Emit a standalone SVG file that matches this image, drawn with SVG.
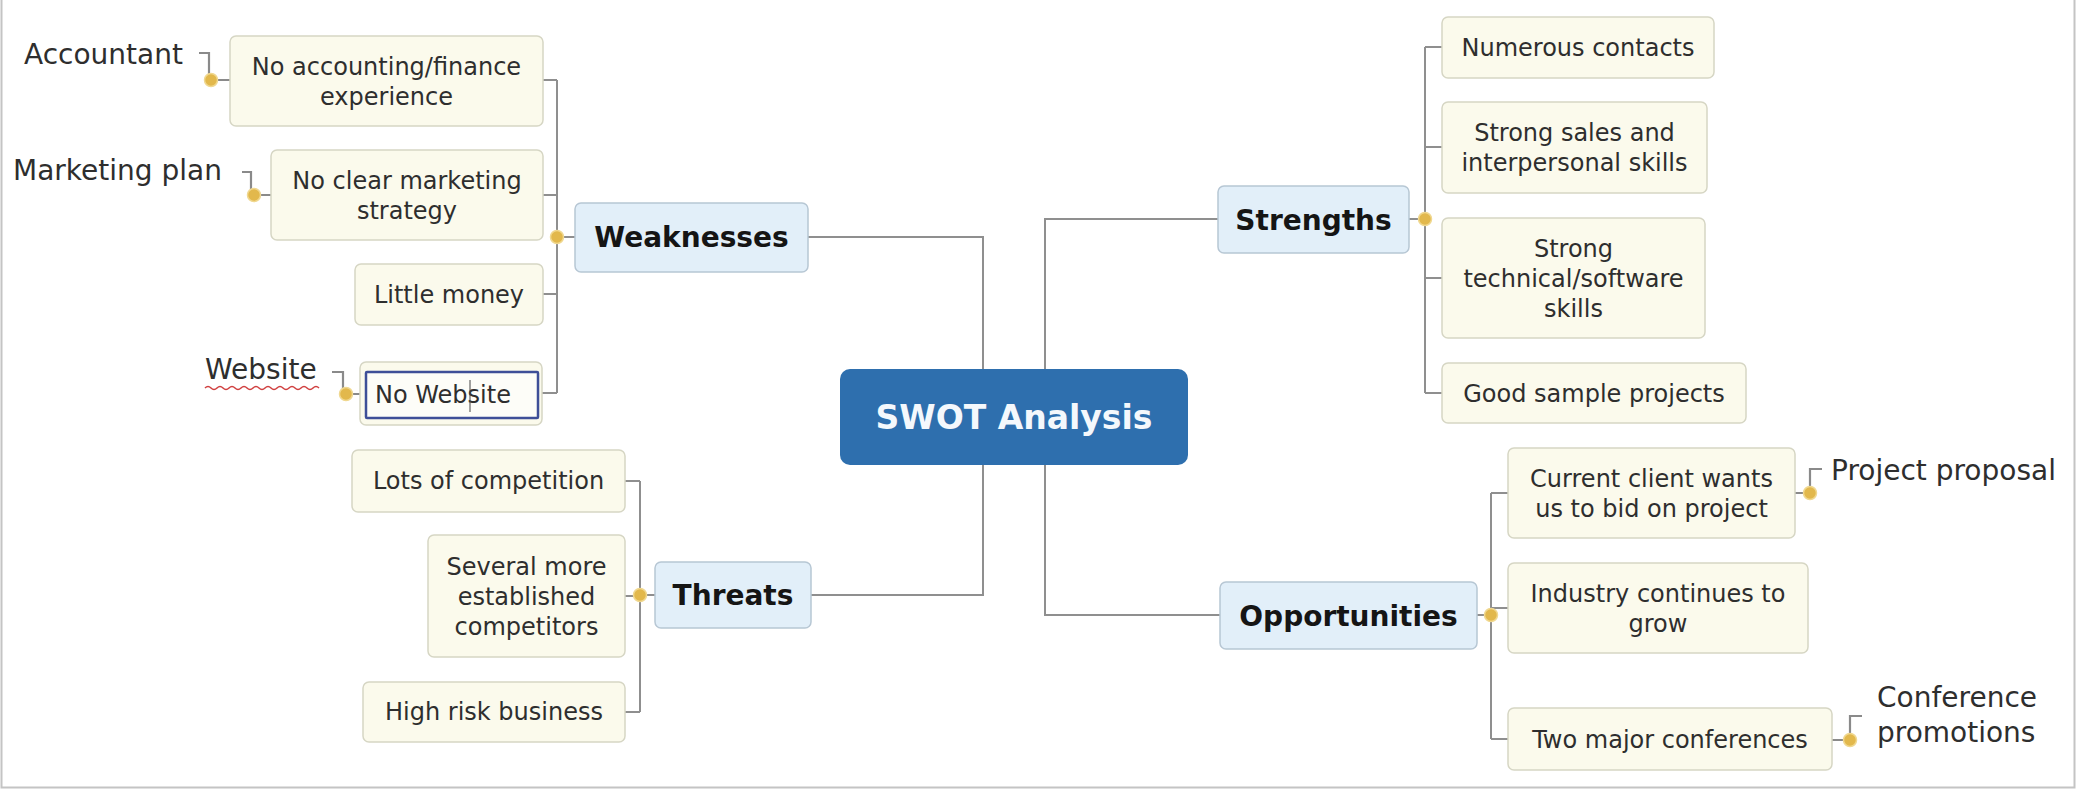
<svg xmlns="http://www.w3.org/2000/svg" width="2076" height="790" viewBox="0 0 2076 790">
<style>
.node rect{fill:#fbfaec;stroke:#d6d6c4;stroke-width:1.5}
.branch rect{fill:#e2eff9;stroke:#b7c7d4;stroke-width:1.5}
.t{font-family:"DejaVu Sans","Liberation Sans",sans-serif;font-size:24px;fill:#2e2e2e;text-anchor:middle}
.b{font-family:"DejaVu Sans","Liberation Sans",sans-serif;font-size:28px;font-weight:bold;fill:#151515;text-anchor:middle}
.lbl{font-family:"DejaVu Sans","Liberation Sans",sans-serif;font-size:28px;fill:#2e2e2e}
.c{fill:none;stroke:#8f8f8f;stroke-width:2}
.h{fill:none;stroke:#8a8a8a;stroke-width:2.2}
.dot{fill:#e2b84c;stroke:#f0d890;stroke-width:1.5}
</style>
<rect x="0" y="0" width="2076" height="790" fill="#ffffff"/>
<path d="M1.5,0 V787.5 H2074.5 V0" fill="none" stroke="#c4c4c4" stroke-width="2"/>

<g id="connectors">
  <path class="c" d="M808,237 H983 V595 H811"/>
  <path class="c" d="M1218,219 H1045 V615 H1220"/>
  <path class="c" d="M543,80 H557 M543,195 H557 M543,294 H557 M542,393 H557 M557,80 V393 M557,237 H575"/>
  <path class="c" d="M625,481 H640 M625,596 H640 M625,712 H640 M640,481 V712 M640,595 H655"/>
  <path class="c" d="M1409,219 H1425 M1425,47 V393 M1425,47 H1442 M1425,147 H1442 M1425,278 H1442 M1425,393 H1442"/>
  <path class="c" d="M1477,615 H1491 M1491,493 V739 M1491,493 H1508 M1491,608 H1508 M1491,739 H1508"/>
  <path class="h" d="M199,53 H209 V80 H230"/>
  <path class="h" d="M242,172 H251 V195 H271"/>
  <path class="h" d="M332,372 H343 V394 H360"/>
  <path class="h" d="M1795,493 H1810 V469 H1822"/>
  <path class="h" d="M1832,740 H1850 V716 H1862"/>
  <circle class="dot" cx="557" cy="237" r="6.5"/>
  <circle class="dot" cx="640" cy="595" r="6.5"/>
  <circle class="dot" cx="1425" cy="219" r="6.5"/>
  <circle class="dot" cx="1491" cy="615" r="6.5"/>
  <circle class="dot" cx="211" cy="80" r="6.5"/>
  <circle class="dot" cx="254" cy="195" r="6.5"/>
  <circle class="dot" cx="346" cy="394" r="6.5"/>
  <circle class="dot" cx="1810" cy="493" r="6.5"/>
  <circle class="dot" cx="1850" cy="740" r="6.5"/>
</g>

<g id="center">
  <rect x="840" y="369" width="348" height="96" rx="10" fill="#2e6fae"/>
  <text x="1014" y="429" font-family="'DejaVu Sans','Liberation Sans',sans-serif" font-size="33" font-weight="bold" fill="#f4f8fc" text-anchor="middle">SWOT Analysis</text>
</g>

<g id="weaknesses" class="branch">
  <rect x="575" y="203" width="233" height="69" rx="6"/>
  <text class="b" x="691.5" y="247">Weaknesses</text>
</g>
<g id="w1" class="node">
  <rect x="230" y="36" width="313" height="90" rx="6"/>
  <text class="t" x="386.5" y="74.5">No accounting/finance</text>
  <text class="t" x="386.5" y="104.5">experience</text>
</g>
<g id="w1-label"><text class="lbl" x="24" y="64">Accountant</text></g>
<g id="w2" class="node">
  <rect x="271" y="150" width="272" height="90" rx="6"/>
  <text class="t" x="407" y="188.5">No clear marketing</text>
  <text class="t" x="407" y="218.5">strategy</text>
</g>
<g id="w2-label"><text class="lbl" x="13" y="180">Marketing plan</text></g>
<g id="w3" class="node">
  <rect x="355" y="264" width="188" height="61" rx="6"/>
  <text class="t" x="449" y="303">Little money</text>
</g>
<g id="w4" class="node">
  <rect x="360" y="362" width="182" height="63" rx="6"/>
  <rect x="366" y="372" width="172" height="46" rx="1" style="fill:#fdfdf8;stroke:#3e4f98;stroke-width:2.5"/>
  <text class="t" x="375" y="403" style="text-anchor:start">No Website</text>
  <line x1="470" y1="380" x2="470" y2="412" stroke="#444" stroke-width="1"/>
</g>
<g id="w4-label">
  <text class="lbl" x="205" y="379">Website</text>
  <path d="M205,388 q3,-3 6,0 t6,0 t6,0 t6,0 t6,0 t6,0 t6,0 t6,0 t6,0 t6,0 t6,0 t6,0 t6,0 t6,0 t6,0 t6,0 t6,0 t6,0 t6,0" fill="none" stroke="#d04040" stroke-width="1.5"/>
</g>

<g id="threats" class="branch">
  <rect x="655" y="562" width="156" height="66" rx="6"/>
  <text class="b" x="733" y="605">Threats</text>
</g>
<g id="t1" class="node">
  <rect x="352" y="450" width="273" height="62" rx="6"/>
  <text class="t" x="488.5" y="489">Lots of competition</text>
</g>
<g id="t2" class="node">
  <rect x="428" y="535" width="197" height="122" rx="6"/>
  <text class="t" x="526.5" y="574.5">Several more</text>
  <text class="t" x="526.5" y="604.5">established</text>
  <text class="t" x="526.5" y="634.5">competitors</text>
</g>
<g id="t3" class="node">
  <rect x="363" y="682" width="262" height="60" rx="6"/>
  <text class="t" x="494" y="720">High risk business</text>
</g>

<g id="strengths" class="branch">
  <rect x="1218" y="186" width="191" height="67" rx="6"/>
  <text class="b" x="1313.5" y="229.5">Strengths</text>
</g>
<g id="s1" class="node">
  <rect x="1442" y="17" width="272" height="61" rx="6"/>
  <text class="t" x="1578" y="56">Numerous contacts</text>
</g>
<g id="s2" class="node">
  <rect x="1442" y="102" width="265" height="91" rx="6"/>
  <text class="t" x="1574.5" y="141">Strong sales and</text>
  <text class="t" x="1574.5" y="171">interpersonal skills</text>
</g>
<g id="s3" class="node">
  <rect x="1442" y="218" width="263" height="120" rx="6"/>
  <text class="t" x="1573.5" y="256.5">Strong</text>
  <text class="t" x="1573.5" y="286.5">technical/software</text>
  <text class="t" x="1573.5" y="316.5">skills</text>
</g>
<g id="s4" class="node">
  <rect x="1442" y="363" width="304" height="60" rx="6"/>
  <text class="t" x="1594" y="401.5">Good sample projects</text>
</g>

<g id="opportunities" class="branch">
  <rect x="1220" y="582" width="257" height="67" rx="6"/>
  <text class="b" x="1348.5" y="625.5">Opportunities</text>
</g>
<g id="o1" class="node">
  <rect x="1508" y="448" width="287" height="90" rx="6"/>
  <text class="t" x="1651.5" y="486.5">Current client wants</text>
  <text class="t" x="1651.5" y="516.5">us to bid on project</text>
</g>
<g id="o1-label"><text class="lbl" x="1831" y="480">Project proposal</text></g>
<g id="o2" class="node">
  <rect x="1508" y="563" width="300" height="90" rx="6"/>
  <text class="t" x="1658" y="601.5">Industry continues to</text>
  <text class="t" x="1658" y="631.5">grow</text>
</g>
<g id="o3" class="node">
  <rect x="1508" y="708" width="324" height="62" rx="6"/>
  <text class="t" x="1670" y="747.5">Two major conferences</text>
</g>
<g id="o3-label">
  <text class="lbl" x="1877" y="707">Conference</text>
  <text class="lbl" x="1877" y="742">promotions</text>
</g>
</svg>
